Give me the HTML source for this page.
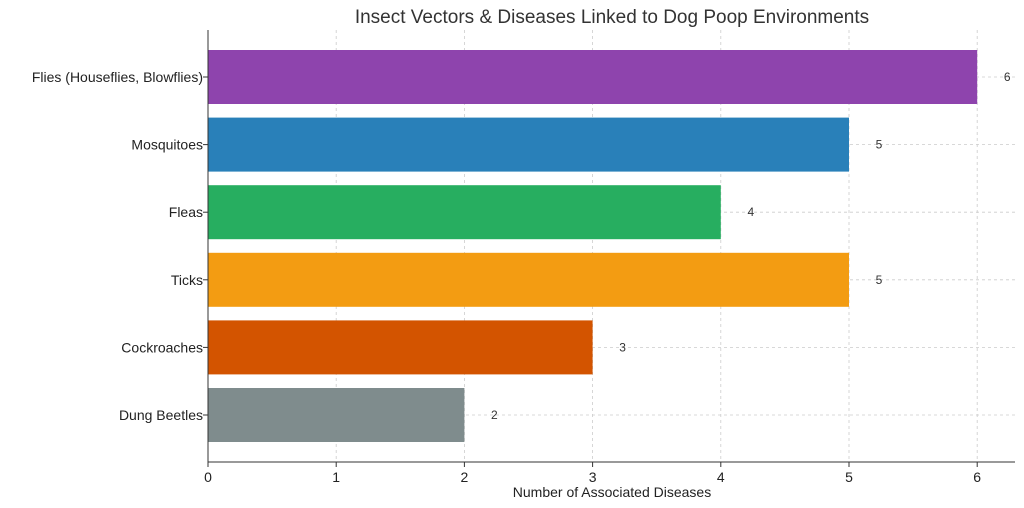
<!DOCTYPE html>
<html><head><meta charset="utf-8"><style>
html,body{margin:0;padding:0;background:#fff;}
svg{display:block;font-family:"Liberation Sans","DejaVu Sans",sans-serif;}
</style></head><body>
<svg id="chart" width="1024" height="508" viewBox="0 0 1024 508">
<text x="612" y="23" text-anchor="middle" font-size="19" fill="#333">Insect Vectors &amp; Diseases Linked to Dog Poop Environments</text>
<g id="grid"></g>
<g id="bars"></g>
<g id="axes"></g>
<text x="612" y="497" text-anchor="middle" font-size="14" fill="#222">Number of Associated Diseases</text>
</svg>
<script>
const categories = ["Flies (Houseflies, Blowflies)","Mosquitoes","Fleas","Ticks","Cockroaches","Dung Beetles"];
const values = [6,5,4,5,3,2];
const colors = ["#8e44ad","#2980b9","#27ae60","#f39c12","#d35400","#7f8c8d"];
const xTicks = [0,1,2,3,4,5,6];

const NS="http://www.w3.org/2000/svg";
const L=208, R=1015, T=30, B=462;
const x0=L, unit=128.2;
function xScale(v){return x0+v*unit;}
const band=67.6, firstCenter=77, barH=54;
function yScale(i){return firstCenter+i*band;}
function mk(tag,attrs,parent){const e=document.createElementNS(NS,tag);for(const k in attrs)e.setAttribute(k,attrs[k]);parent.appendChild(e);return e;}
const grid=document.getElementById('grid'), bars=document.getElementById('bars'), axes=document.getElementById('axes');

xTicks.forEach(t=>{
  const g=mk('line',{x1:xScale(t),x2:xScale(t),y1:T,y2:B,stroke:'#ccc','stroke-width':0.8,'stroke-dasharray':'3,3'},grid);
  
  
  const tk=mk('line',{x1:xScale(t),x2:xScale(t),y1:B,y2:B+5,stroke:'#333'},axes);
  
  
  const lb=mk('text',{x:xScale(t),y:B+20,'text-anchor':'middle','font-size':14,fill:'#222'},axes);
  lb.textContent=t;
  
  
});
categories.forEach((c,i)=>{
  const cy=yScale(i);
  const g=mk('line',{x1:L,x2:R,y1:cy,y2:cy,stroke:'#ccc','stroke-width':0.8,'stroke-dasharray':'3,3'},grid);
  
  
  const r=mk('rect',{x:xScale(0),y:cy-barH/2,width:xScale(values[i])-xScale(0),height:barH,fill:colors[i]},bars);
  
  
  const v=mk('text',{x:xScale(values[i])+30,y:cy+4,'text-anchor':'middle','font-size':12,fill:'#333'},bars);
  v.textContent=values[i];
  
  
  const tk=mk('line',{x1:L-5,x2:L,y1:cy,y2:cy,stroke:'#333'},axes);
  
  
  const lb=mk('text',{x:L-5,y:cy+5,'text-anchor':'end','font-size':14,fill:'#222'},axes);
  lb.textContent=c;
  
  
});
const ax1=mk('line',{x1:L,x2:L,y1:T,y2:B,stroke:'#333','stroke-width':1},axes);


const ax2=mk('line',{x1:L,x2:R,y1:B,y2:B,stroke:'#333','stroke-width':1},axes);


</script>
</body></html>
